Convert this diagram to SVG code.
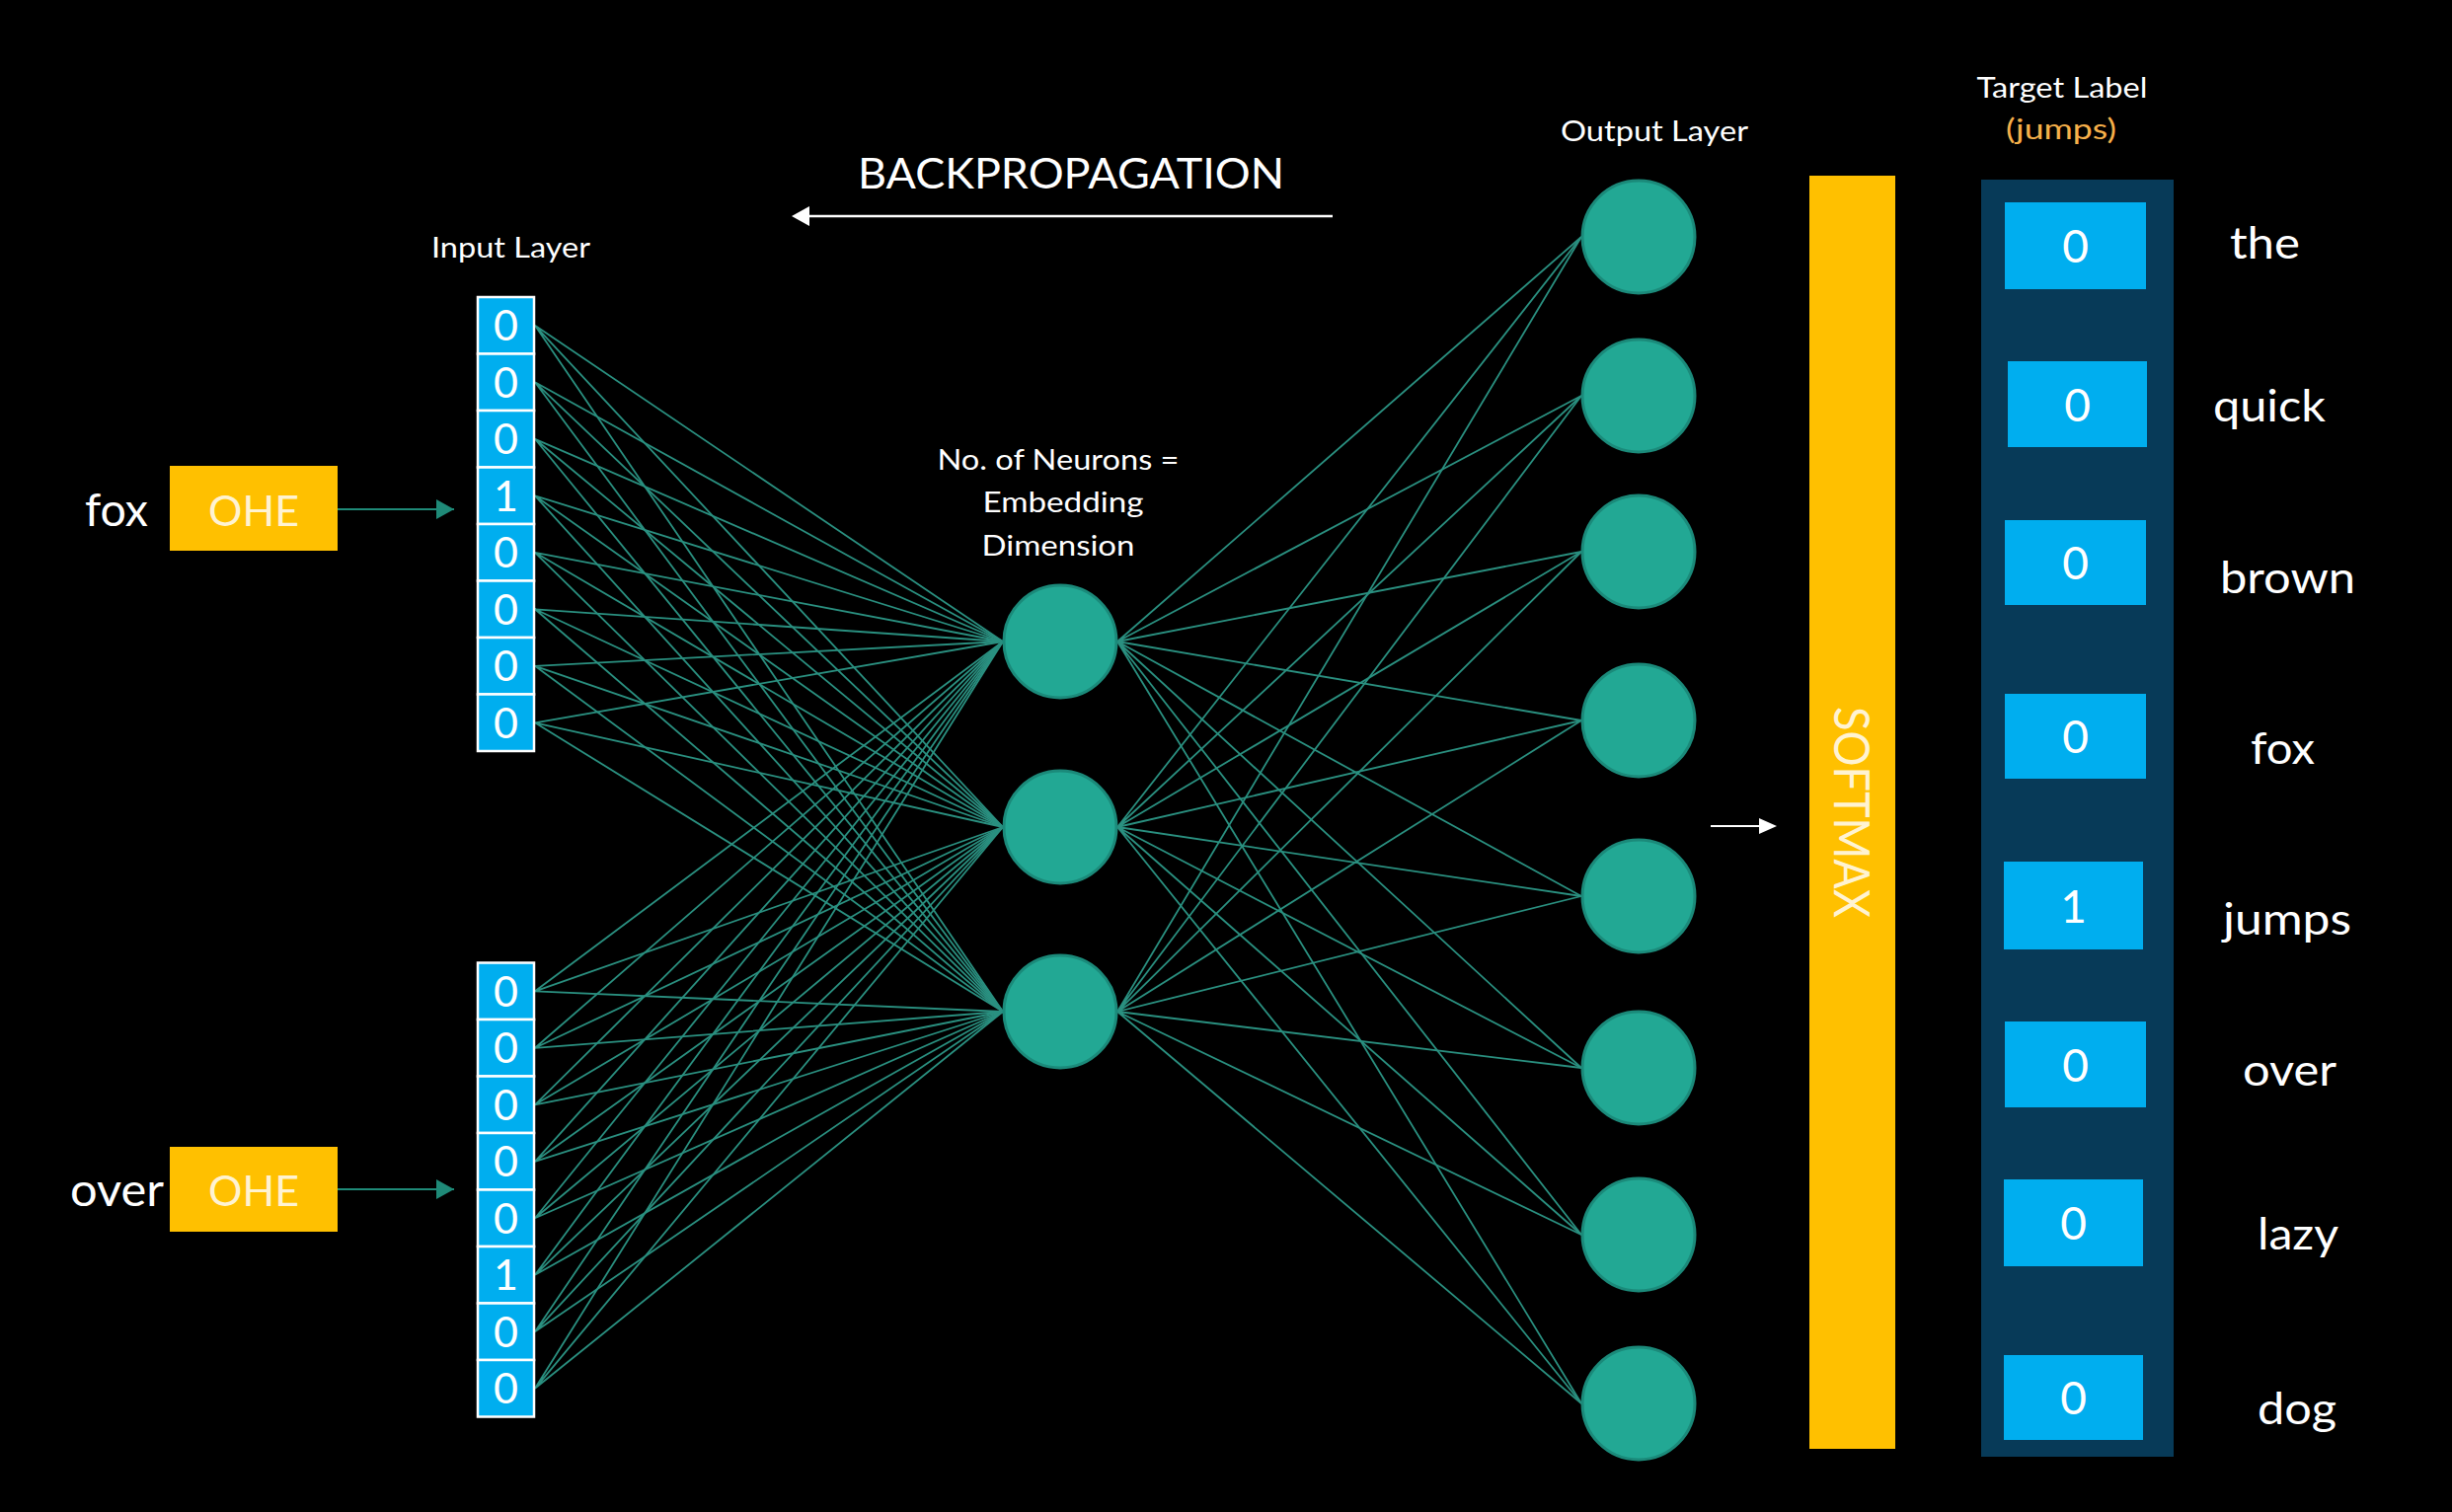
<svg xmlns="http://www.w3.org/2000/svg" width="2484" height="1532" viewBox="0 0 2484 1532">
<defs>
<style>
.t{font-family:Lato,"Open Sans","Liberation Sans",sans-serif;fill:#ffffff}
.cell{fill:#00AEEF;stroke:#ffffff;stroke-width:2.5}
.dig{font-family:Lato,"Open Sans","Liberation Sans",sans-serif;fill:#ffffff;font-size:43px;text-anchor:middle}
.tdig{font-family:Lato,"Open Sans","Liberation Sans",sans-serif;fill:#ffffff;font-size:46px;text-anchor:middle}
.neu{fill:#22A894;stroke:#1B8A7A;stroke-width:3}
.w{stroke:#2A9080;stroke-width:1.8;fill:none}
.tbox{fill:#00AEEF}
.word{font-family:Lato,"Open Sans","Liberation Sans",sans-serif;fill:#ffffff;font-size:45px;text-anchor:middle}
</style>
<marker id="tealHead" markerWidth="18" markerHeight="20" refX="18" refY="10" orient="auto" markerUnits="userSpaceOnUse" viewBox="0 0 18 20">
<path d="M0,0 L18,10 L0,20 Z" fill="#1F8A78"/>
</marker>
</defs>
<rect x="0" y="0" width="2484" height="1532" fill="#000000"/>

<g id="connectors">
<g id="input-to-hidden" class="w">
<path d="M542,329.8 L1016,650 M542,329.8 L1016,838 M542,329.8 L1016,1025"/>
<path d="M542,387.3 L1016,650 M542,387.3 L1016,838 M542,387.3 L1016,1025"/>
<path d="M542,444.8 L1016,650 M542,444.8 L1016,838 M542,444.8 L1016,1025"/>
<path d="M542,502.3 L1016,650 M542,502.3 L1016,838 M542,502.3 L1016,1025"/>
<path d="M542,559.8 L1016,650 M542,559.8 L1016,838 M542,559.8 L1016,1025"/>
<path d="M542,617.3 L1016,650 M542,617.3 L1016,838 M542,617.3 L1016,1025"/>
<path d="M542,674.8 L1016,650 M542,674.8 L1016,838 M542,674.8 L1016,1025"/>
<path d="M542,732.3 L1016,650 M542,732.3 L1016,838 M542,732.3 L1016,1025"/>
<path d="M542,1004.3 L1016,650 M542,1004.3 L1016,838 M542,1004.3 L1016,1025"/>
<path d="M542,1061.8 L1016,650 M542,1061.8 L1016,838 M542,1061.8 L1016,1025"/>
<path d="M542,1119.3 L1016,650 M542,1119.3 L1016,838 M542,1119.3 L1016,1025"/>
<path d="M542,1176.8 L1016,650 M542,1176.8 L1016,838 M542,1176.8 L1016,1025"/>
<path d="M542,1234.3 L1016,650 M542,1234.3 L1016,838 M542,1234.3 L1016,1025"/>
<path d="M542,1291.8 L1016,650 M542,1291.8 L1016,838 M542,1291.8 L1016,1025"/>
<path d="M542,1349.3 L1016,650 M542,1349.3 L1016,838 M542,1349.3 L1016,1025"/>
<path d="M542,1406.8 L1016,650 M542,1406.8 L1016,838 M542,1406.8 L1016,1025"/>
</g>
<g id="hidden-to-output" class="w">
<path d="M1132,650 L1602,240 M1132,650 L1602,401 M1132,650 L1602,559 M1132,650 L1602,730 M1132,650 L1602,908 M1132,650 L1602,1082 M1132,650 L1602,1251 M1132,650 L1602,1422"/>
<path d="M1132,838 L1602,240 M1132,838 L1602,401 M1132,838 L1602,559 M1132,838 L1602,730 M1132,838 L1602,908 M1132,838 L1602,1082 M1132,838 L1602,1251 M1132,838 L1602,1422"/>
<path d="M1132,1025 L1602,240 M1132,1025 L1602,401 M1132,1025 L1602,559 M1132,1025 L1602,730 M1132,1025 L1602,908 M1132,1025 L1602,1082 M1132,1025 L1602,1251 M1132,1025 L1602,1422"/>
</g>
<line id="arrow-fox" x1="342" y1="516" x2="460" y2="516" stroke="#1F8A78" stroke-width="2" marker-end="url(#tealHead)"/>
<line id="arrow-over" x1="342" y1="1205" x2="460" y2="1205" stroke="#1F8A78" stroke-width="2" marker-end="url(#tealHead)"/>
<g id="arrow-backprop">
<line x1="1350" y1="219" x2="815" y2="219" stroke="#ffffff" stroke-width="2.5"/>
<path d="M802,219 L820,209 L820,229 Z" fill="#ffffff"/>
</g>
<g id="arrow-softmax">
<line x1="1733" y1="837" x2="1788" y2="837" stroke="#ffffff" stroke-width="2"/>
<path d="M1800,837 L1782,829 L1782,845 Z" fill="#ffffff"/>
</g>
</g>

<g id="title-backprop">
<text class="t" x="1085" y="191" font-size="43" text-anchor="middle" textLength="432" lengthAdjust="spacingAndGlyphs">BACKPROPAGATION</text>
</g>

<g id="label-input-layer">
<text class="t" x="517.5" y="261" font-size="28" text-anchor="middle" textLength="161" lengthAdjust="spacingAndGlyphs">Input Layer</text>
</g>

<g id="word-fox">
<text class="t" x="118" y="533" font-size="46" text-anchor="middle" textLength="64" lengthAdjust="spacingAndGlyphs">fox</text>
</g>
<g id="ohe-fox">
<rect x="172" y="472" width="170" height="86" fill="#FFC000"/>
<text x="257" y="533" font-family="Lato,'Open Sans','Liberation Sans',sans-serif" font-size="43" fill="#FFF3D2" text-anchor="middle" textLength="92" lengthAdjust="spacingAndGlyphs">OHE</text>
</g>

<g id="word-over">
<text class="t" x="118.5" y="1222" font-size="46" text-anchor="middle" textLength="95" lengthAdjust="spacingAndGlyphs">over</text>
</g>
<g id="ohe-over">
<rect x="172" y="1162" width="170" height="86" fill="#FFC000"/>
<text x="257" y="1222" font-family="Lato,'Open Sans','Liberation Sans',sans-serif" font-size="43" fill="#FFF3D2" text-anchor="middle" textLength="92" lengthAdjust="spacingAndGlyphs">OHE</text>
</g>

<g id="input-fox">
<rect class="cell" x="484" y="301" width="57" height="57.5"/>
<rect class="cell" x="484" y="358.5" width="57" height="57.5"/>
<rect class="cell" x="484" y="416" width="57" height="57.5"/>
<rect class="cell" x="484" y="473.5" width="57" height="57.5"/>
<rect class="cell" x="484" y="531" width="57" height="57.5"/>
<rect class="cell" x="484" y="588.5" width="57" height="57.5"/>
<rect class="cell" x="484" y="646" width="57" height="57.5"/>
<rect class="cell" x="484" y="703.5" width="57" height="57.5"/>
<text class="dig" x="512.5" y="345">0</text>
<text class="dig" x="512.5" y="402.5">0</text>
<text class="dig" x="512.5" y="460">0</text>
<text class="dig" x="512.5" y="517.5">1</text>
<text class="dig" x="512.5" y="575">0</text>
<text class="dig" x="512.5" y="632.5">0</text>
<text class="dig" x="512.5" y="690">0</text>
<text class="dig" x="512.5" y="747.5">0</text>
</g>

<g id="input-over">
<rect class="cell" x="484" y="975.5" width="57" height="57.5"/>
<rect class="cell" x="484" y="1033" width="57" height="57.5"/>
<rect class="cell" x="484" y="1090.5" width="57" height="57.5"/>
<rect class="cell" x="484" y="1148" width="57" height="57.5"/>
<rect class="cell" x="484" y="1205.5" width="57" height="57.5"/>
<rect class="cell" x="484" y="1263" width="57" height="57.5"/>
<rect class="cell" x="484" y="1320.5" width="57" height="57.5"/>
<rect class="cell" x="484" y="1378" width="57" height="57.5"/>
<text class="dig" x="512.5" y="1019.5">0</text>
<text class="dig" x="512.5" y="1077">0</text>
<text class="dig" x="512.5" y="1134.5">0</text>
<text class="dig" x="512.5" y="1192">0</text>
<text class="dig" x="512.5" y="1249.5">0</text>
<text class="dig" x="512.5" y="1307">1</text>
<text class="dig" x="512.5" y="1364.5">0</text>
<text class="dig" x="512.5" y="1422">0</text>
</g>

<g id="label-hidden">
<text class="t" x="1072" y="476" font-size="29" text-anchor="middle" textLength="245" lengthAdjust="spacingAndGlyphs">No. of Neurons =</text>
<text class="t" x="1077" y="519" font-size="29" text-anchor="middle" textLength="163" lengthAdjust="spacingAndGlyphs">Embedding</text>
<text class="t" x="1072" y="563" font-size="29" text-anchor="middle" textLength="155" lengthAdjust="spacingAndGlyphs">Dimension</text>
</g>

<g id="hidden-1"><circle class="neu" cx="1074" cy="650" r="57"/></g>
<g id="hidden-2"><circle class="neu" cx="1074" cy="838" r="57"/></g>
<g id="hidden-3"><circle class="neu" cx="1074" cy="1025" r="57"/></g>

<g id="label-output-layer">
<text class="t" x="1676" y="143" font-size="28" text-anchor="middle" textLength="190" lengthAdjust="spacingAndGlyphs">Output Layer</text>
</g>

<g id="output-1"><circle class="neu" cx="1660" cy="240" r="57"/></g>
<g id="output-2"><circle class="neu" cx="1660" cy="401" r="57"/></g>
<g id="output-3"><circle class="neu" cx="1660" cy="559" r="57"/></g>
<g id="output-4"><circle class="neu" cx="1660" cy="730" r="57"/></g>
<g id="output-5"><circle class="neu" cx="1660" cy="908" r="57"/></g>
<g id="output-6"><circle class="neu" cx="1660" cy="1082" r="57"/></g>
<g id="output-7"><circle class="neu" cx="1660" cy="1251" r="57"/></g>
<g id="output-8"><circle class="neu" cx="1660" cy="1422" r="57"/></g>

<g id="softmax">
<rect x="1833" y="178" width="87" height="1290" fill="#FFC000"/>
<text transform="translate(1858,823) rotate(90)" x="0" y="0" font-family="Lato,'Open Sans','Liberation Sans',sans-serif" font-size="50" fill="#FFF3D2" text-anchor="middle" textLength="214" lengthAdjust="spacingAndGlyphs">SOFTMAX</text>
</g>

<g id="label-target">
<text class="t" x="2089" y="99" font-size="28" text-anchor="middle" textLength="173" lengthAdjust="spacingAndGlyphs">Target Label</text>
<text x="2088" y="141" font-family="Lato,'Open Sans','Liberation Sans',sans-serif" font-size="28" fill="#F6B04A" text-anchor="middle" textLength="112" lengthAdjust="spacingAndGlyphs">(jumps)</text>
</g>

<g id="target-panel">
<rect x="2007" y="182" width="195" height="1294" fill="#073A58"/>
</g>

<g id="target-the"><rect class="tbox" x="2031" y="205" width="143" height="88"/><text class="tdig" x="2102.5" y="266">0</text><text class="word" x="2294.5" y="262" textLength="71" lengthAdjust="spacingAndGlyphs">the</text></g>
<g id="target-quick"><rect class="tbox" x="2034" y="366" width="141" height="87"/><text class="tdig" x="2104.5" y="426.5">0</text><text class="word" x="2299" y="426.5" textLength="114" lengthAdjust="spacingAndGlyphs">quick</text></g>
<g id="target-brown"><rect class="tbox" x="2031" y="527" width="143" height="86"/><text class="tdig" x="2102.5" y="587">0</text><text class="word" x="2317.5" y="601" textLength="137" lengthAdjust="spacingAndGlyphs">brown</text></g>
<g id="target-fox"><rect class="tbox" x="2031" y="703" width="143" height="86"/><text class="tdig" x="2102.5" y="763">0</text><text class="word" x="2312.5" y="774" textLength="65" lengthAdjust="spacingAndGlyphs">fox</text></g>
<g id="target-jumps"><rect class="tbox" x="2030" y="873" width="141" height="89"/><text class="tdig" x="2100.5" y="934.5">1</text><text class="word" x="2317" y="947" textLength="130" lengthAdjust="spacingAndGlyphs">jumps</text></g>
<g id="target-over"><rect class="tbox" x="2031" y="1035" width="143" height="87"/><text class="tdig" x="2102.5" y="1095.5">0</text><text class="word" x="2319.5" y="1100" textLength="95" lengthAdjust="spacingAndGlyphs">over</text></g>
<g id="target-lazy"><rect class="tbox" x="2030" y="1195" width="141" height="88"/><text class="tdig" x="2100.5" y="1256">0</text><text class="word" x="2328" y="1266" textLength="82" lengthAdjust="spacingAndGlyphs">lazy</text></g>
<g id="target-dog"><rect class="tbox" x="2030" y="1373" width="141" height="86"/><text class="tdig" x="2100.5" y="1433">0</text><text class="word" x="2327" y="1443" textLength="80" lengthAdjust="spacingAndGlyphs">dog</text></g>
</svg>
